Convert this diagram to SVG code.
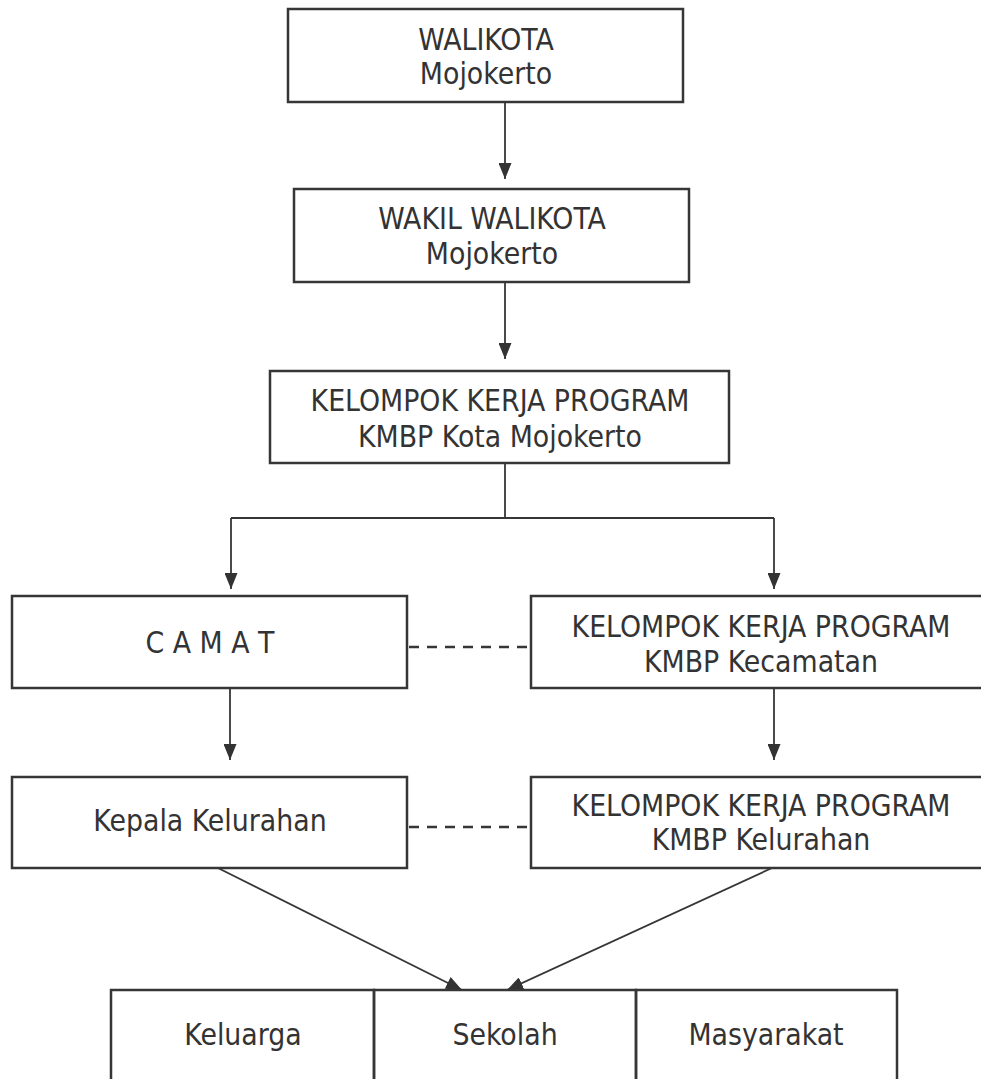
<svg xmlns="http://www.w3.org/2000/svg" width="981" height="1079" viewBox="0 0 981 1079">
<style>
.box{fill:none;stroke:#363636;stroke-width:2.5}
.ln{fill:none;stroke:#363636;stroke-width:1.8}
.dash{fill:none;stroke:#363636;stroke-width:2.5;stroke-dasharray:10 8}
text{font-family:"DejaVu Sans Condensed","DejaVu Sans",sans-serif;font-stretch:condensed;font-size:29.8px;fill:#333;text-anchor:middle}
</style>
<defs>
<marker id="arr" markerUnits="userSpaceOnUse" markerWidth="17" markerHeight="13" refX="16" refY="6.5" orient="auto">
<path d="M0,0 L16,6.5 L0,13 z" fill="#333"/>
</marker>
</defs>
<rect width="981" height="1079" fill="#fff"/>
<g id="connectors">
<line class="ln" x1="505" y1="102" x2="505" y2="179" marker-end="url(#arr)"/>
<line class="ln" x1="505" y1="282" x2="505" y2="359" marker-end="url(#arr)"/>
<polyline class="ln" points="505,463 505,518"/>
<polyline class="ln" points="231,518 774,518"/>
<line class="ln" x1="231" y1="518" x2="231" y2="589" marker-end="url(#arr)"/>
<line class="ln" x1="774" y1="518" x2="774" y2="589" marker-end="url(#arr)"/>
<line class="ln" x1="230" y1="688" x2="230" y2="760" marker-end="url(#arr)"/>
<line class="ln" x1="774" y1="688" x2="774" y2="760" marker-end="url(#arr)"/>
<line class="dash" x1="409" y1="647" x2="531" y2="647"/>
<line class="dash" x1="409" y1="827" x2="531" y2="827"/>
<line class="ln" x1="218" y1="868" x2="462" y2="990" marker-end="url(#arr)"/>
<line class="ln" x1="772" y1="868" x2="507" y2="990" marker-end="url(#arr)"/>
</g>
<g id="walikota">
<rect class="box" x="288" y="9" width="395" height="93"/>
<text x="486" y="50">WALIKOTA</text>
<text x="486" y="84">Mojokerto</text>
</g>
<g id="wakil">
<rect class="box" x="294" y="189" width="395" height="93"/>
<text x="492" y="229">WAKIL WALIKOTA</text>
<text x="492" y="264">Mojokerto</text>
</g>
<g id="pokja-kota">
<rect class="box" x="270" y="371" width="459" height="92"/>
<text x="500" y="411">KELOMPOK KERJA PROGRAM</text>
<text x="500" y="447">KMBP Kota Mojokerto</text>
</g>
<g id="camat">
<rect class="box" x="12" y="596" width="395" height="92"/>
<text x="210" y="653">C A M A T</text>
</g>
<g id="pokja-kecamatan">
<rect class="box" x="531" y="596" width="461" height="92"/>
<text x="761" y="637">KELOMPOK KERJA PROGRAM</text>
<text x="761" y="672">KMBP Kecamatan</text>
</g>
<g id="kepala-kelurahan">
<rect class="box" x="12" y="777" width="395" height="91"/>
<text x="210" y="831">Kepala Kelurahan</text>
</g>
<g id="pokja-kelurahan">
<rect class="box" x="531" y="777" width="461" height="91"/>
<text x="761" y="816">KELOMPOK KERJA PROGRAM</text>
<text x="761" y="850">KMBP Kelurahan</text>
</g>
<g id="keluarga">
<rect class="box" x="111" y="990" width="263" height="110"/>
<text x="243" y="1045">Keluarga</text>
</g>
<g id="sekolah">
<rect class="box" x="374" y="990" width="262" height="110"/>
<text x="505" y="1045">Sekolah</text>
</g>
<g id="masyarakat">
<rect class="box" x="636" y="990" width="261" height="110"/>
<text x="766" y="1045">Masyarakat</text>
</g>
</svg>
